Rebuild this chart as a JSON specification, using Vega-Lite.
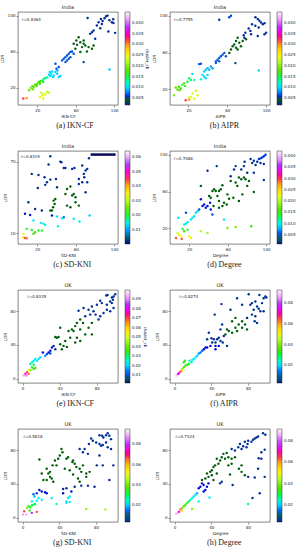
{
"$schema": "https://vega.github.io/schema/vega-lite/v6.json",
"padding": {"left": 0, "top": 4, "right": 0, "bottom": 0},
"background": "white",
"columns": 2,
"spacing": {"row": 12, "column": 2},
"resolve": {"scale": {"color": "independent"}, "legend": {"color": "independent"}},
"config": {
 "view": {"stroke": "#333", "strokeWidth": 0.6},
 "axis": {"labelFontSize": 4, "titleFontSize": 4.3, "labelFont": "DejaVu Sans", "titleFont": "DejaVu Sans", "grid": false, "tickSize": 2, "tickWidth": 0.5, "domain": false, "labelPadding": 1, "titlePadding": 2.5, "titleFontWeight": "normal", "labelColor": "#222", "titleColor": "#222", "tickColor": "#333", "labelOverlap": false, "labelFlush": false},
 "legend": {"gradientLength": 93, "gradientThickness": 5, "labelFontSize": 4, "labelFont": "DejaVu Sans", "offset": 7, "padding": 0, "gradientStrokeColor": "#333", "gradientStrokeWidth": 0.5, "labelOffset": 2, "titleFontSize": 4, "titleFont": "DejaVu Sans", "titleFontWeight": "normal", "labelColor": "#222", "titlePadding": 2, "labelOverlap": false},
 "title": {"fontSize": 5, "font": "DejaVu Sans", "fontWeight": "normal", "offset": 2, "color": "#222"},
 "circle": {"size": 6, "opacity": 1}
},
"datasets": {
"a": [
{"x":91.7,"y":99.3,"c":0.0022},{"x":93.1,"y":100,"c":0.0022},{"x":90,"y":97,"c":0.0022},{"x":86.2,"y":96.3,"c":0.0022},{"x":83.8,"y":92.6,"c":0.0022},{"x":87.2,"y":90.8,"c":0.0022},{"x":82,"y":89,"c":0.0022},{"x":97.6,"y":92.6,"c":0.0022},{"x":99.3,"y":91.9,"c":0.0022},{"x":101,"y":80.9,"c":0.0022},{"x":94,"y":82.4,"c":0.0022},{"x":85.5,"y":86,"c":0.0022},{"x":78.6,"y":83.5,"c":0.0022},{"x":76.9,"y":81.6,"c":0.0022},{"x":75,"y":79.8,"c":0.0022},{"x":72.4,"y":97.4,"c":0.0022},{"x":80.3,"y":74.3,"c":0.0022},{"x":68.3,"y":48.5,"c":0.0025},{"x":95,"y":95,"c":0.0022},{"x":88,"y":94,"c":0.0022},{"x":99,"y":96,"c":0.0022},
{"x":63.1,"y":76.1,"c":0.004},{"x":64.8,"y":70.6,"c":0.004},{"x":68.3,"y":72.4,"c":0.004},{"x":70,"y":66.9,"c":0.004},{"x":66.6,"y":65.1,"c":0.004},{"x":61.4,"y":67.6,"c":0.004},{"x":59.7,"y":63.2,"c":0.004},{"x":71.7,"y":60.3,"c":0.004},{"x":73.4,"y":65.1,"c":0.004},{"x":57.9,"y":68.8,"c":0.004},{"x":64.8,"y":59.6,"c":0.004},{"x":78.6,"y":66.9,"c":0.004},{"x":76.9,"y":63.2,"c":0.004},{"x":68.3,"y":68.8,"c":0.004},{"x":60.7,"y":72.4,"c":0.004},
{"x":47.6,"y":52.2,"c":0.0055},{"x":49.3,"y":54,"c":0.0055},{"x":51,"y":55.9,"c":0.0055},{"x":52.8,"y":57.7,"c":0.0055},{"x":54.5,"y":59.6,"c":0.0055},{"x":56.2,"y":60.3,"c":0.0055},{"x":51,"y":50.4,"c":0.0055},{"x":54.5,"y":54,"c":0.0055},{"x":57.9,"y":57.7,"c":0.0055},{"x":49.3,"y":48.5,"c":0.0055},{"x":45.9,"y":50.4,"c":0.0055},{"x":52.8,"y":52.2,"c":0.0055},
{"x":39,"y":46.7,"c":0.0068},{"x":40,"y":41.2,"c":0.0068},{"x":42.4,"y":43,"c":0.0068},
{"x":33.1,"y":37.5,"c":0.0098},{"x":34.5,"y":35.7,"c":0.0098},{"x":35.5,"y":38.2,"c":0.0098},{"x":37.2,"y":33.8,"c":0.0098},{"x":33.8,"y":33.1,"c":0.0098},{"x":32.1,"y":34.6,"c":0.0098},{"x":40.7,"y":35.7,"c":0.0095},{"x":42.4,"y":32,"c":0.0095},{"x":44.1,"y":33.1,"c":0.0095},{"x":38.9,"y":37.5,"c":0.0095},{"x":36.6,"y":32,"c":0.0098},{"x":41,"y":39.3,"c":0.009},{"x":95.2,"y":40.4,"c":0.0095},
{"x":11.4,"y":17.3,"c":0.019},{"x":13.1,"y":19.9,"c":0.019},{"x":14.8,"y":22.1,"c":0.019},{"x":16.2,"y":20.9,"c":0.017},{"x":17.9,"y":23.5,"c":0.017},{"x":20,"y":24.6,"c":0.017},{"x":21.7,"y":26.5,"c":0.017},{"x":23.4,"y":27.2,"c":0.017},{"x":25.2,"y":28.3,"c":0.014},{"x":26.9,"y":30.1,"c":0.014},{"x":28.6,"y":30.9,"c":0.014},{"x":30.3,"y":31.6,"c":0.013},{"x":15.5,"y":18.4,"c":0.019},{"x":19.3,"y":22.1,"c":0.017},{"x":22.8,"y":24.6,"c":0.017},{"x":26.2,"y":26.5,"c":0.015},
{"x":22.8,"y":9.9,"c":0.024},{"x":24.1,"y":14.7,"c":0.023},{"x":25.2,"y":11.8,"c":0.024},{"x":26.9,"y":13.6,"c":0.023},{"x":28.6,"y":12.5,"c":0.024},{"x":30.3,"y":15.4,"c":0.022},{"x":32.1,"y":14.7,"c":0.022},{"x":26.2,"y":8.1,"c":0.025},
{"x":5.5,"y":8.1,"c":0.032},{"x":9,"y":8.8,"c":0.03}
],
"b": [
{"x":51.7,"y":95.6,"c":0.0022},{"x":89,"y":98.2,"c":0.0022},{"x":91.4,"y":96.3,"c":0.0022},{"x":93.1,"y":94.5,"c":0.0022},{"x":94.8,"y":92.6,"c":0.0022},{"x":96.6,"y":90.8,"c":0.0022},{"x":98.3,"y":91.9,"c":0.0022},{"x":85.5,"y":90.8,"c":0.0022},{"x":88.9,"y":89,"c":0.0022},{"x":82,"y":86,"c":0.0022},{"x":92.4,"y":87.1,"c":0.0022},{"x":83.8,"y":83.5,"c":0.0022},{"x":78.6,"y":81.6,"c":0.0022},{"x":76.9,"y":78.7,"c":0.0022},{"x":100,"y":81.6,"c":0.0022},{"x":98.3,"y":79.8,"c":0.0022},{"x":91.4,"y":77.9,"c":0.0022},{"x":84.5,"y":79.8,"c":0.0022},{"x":77.6,"y":76.1,"c":0.0022},{"x":68.3,"y":48.5,"c":0.0025},
{"x":62,"y":98.2,"c":0.0058},{"x":63.8,"y":100,"c":0.0058},
{"x":70.7,"y":76.1,"c":0.004},{"x":69,"y":72.4,"c":0.004},{"x":72.4,"y":70.6,"c":0.004},{"x":67.2,"y":68.8,"c":0.004},{"x":74.1,"y":66.9,"c":0.004},{"x":69,"y":65.1,"c":0.004},{"x":65.5,"y":66.9,"c":0.004},{"x":75.9,"y":72.4,"c":0.004},{"x":79.3,"y":74.3,"c":0.004},{"x":70.7,"y":63.2,"c":0.004},{"x":63.8,"y":63.2,"c":0.004},{"x":62.1,"y":59.6,"c":0.004},
{"x":53.4,"y":55.9,"c":0.0055},{"x":55.2,"y":57.7,"c":0.0055},{"x":56.9,"y":59.6,"c":0.0055},{"x":50,"y":52.2,"c":0.0055},{"x":51.7,"y":54,"c":0.0055},{"x":48.3,"y":50.4,"c":0.0055},{"x":58.6,"y":55.9,"c":0.0055},{"x":48.3,"y":48.5,"c":0.0055},{"x":51.7,"y":50.4,"c":0.0055},
{"x":31,"y":47.4,"c":0.0068},{"x":32.8,"y":47.8,"c":0.0068},
{"x":36.2,"y":39.3,"c":0.0095},{"x":37.9,"y":41.2,"c":0.0095},{"x":39.7,"y":43,"c":0.009},{"x":41.4,"y":41.2,"c":0.009},{"x":43.1,"y":44.9,"c":0.0085},{"x":44.8,"y":43,"c":0.0085},{"x":34.5,"y":35.7,"c":0.0098},{"x":36.2,"y":33.8,"c":0.0098},{"x":39.7,"y":35.7,"c":0.0098},{"x":37.9,"y":32,"c":0.0098},{"x":32.8,"y":30.9,"c":0.011},{"x":24.1,"y":36.8,"c":0.0098},{"x":25.9,"y":30.1,"c":0.012},{"x":92.4,"y":40.4,"c":0.0095},
{"x":5.2,"y":13.6,"c":0.02},{"x":6.9,"y":22.1,"c":0.018},{"x":8.6,"y":19.9,"c":0.018},{"x":10.3,"y":22.8,"c":0.017},{"x":12.1,"y":20.9,"c":0.017},{"x":13.8,"y":24.6,"c":0.016},{"x":15.5,"y":26.5,"c":0.016},{"x":16.6,"y":23.5,"c":0.016},{"x":19,"y":28.3,"c":0.015},{"x":20.7,"y":32,"c":0.014},{"x":22.4,"y":30.1,"c":0.014},{"x":11,"y":19.1,"c":0.018},
{"x":24.1,"y":15.4,"c":0.023},{"x":27.6,"y":18.4,"c":0.022},{"x":29.3,"y":13.6,"c":0.024},{"x":22.4,"y":11.8,"c":0.024},{"x":25.9,"y":9.9,"c":0.025},{"x":20.7,"y":11,"c":0.024},
{"x":17.2,"y":8.1,"c":0.032},{"x":20.7,"y":8.8,"c":0.029}
],
"c": [
{"x":33.6,"y":74.6,"c":0.0011},{"x":44,"y":70.1,"c":0.0011},{"x":45.1,"y":69.6,"c":0.0011},{"x":47.6,"y":64.8,"c":0.0011},{"x":49.3,"y":64.8,"c":0.0011},{"x":31.8,"y":67.6,"c":0.0011},{"x":56.3,"y":64,"c":0.0011},{"x":58.7,"y":64.8,"c":0.0011},{"x":66.8,"y":66.8,"c":0.0011},{"x":73.8,"y":72.9,"c":0.0011},{"x":14.3,"y":59.8,"c":0.0011},{"x":21.3,"y":58.9,"c":0.0011},{"x":27.6,"y":57,"c":0.0011},{"x":30.1,"y":52.8,"c":0.0011},{"x":33.6,"y":55,"c":0.0011},{"x":39.5,"y":55.6,"c":0.0011},{"x":20.6,"y":48,"c":0.0011},{"x":28.3,"y":50.6,"c":0.0011},{"x":40.6,"y":48.6,"c":0.0011},{"x":63.3,"y":55.6,"c":0.0011},{"x":70.3,"y":62.6,"c":0.0011},{"x":72,"y":64,"c":0.0011},{"x":68.5,"y":59.8,"c":0.0011},{"x":68.9,"y":57,"c":0.0011},{"x":66.8,"y":52.8,"c":0.0011},{"x":63.3,"y":51.4,"c":0.0011},{"x":72,"y":52.8,"c":0.0011},{"x":70.3,"y":44.4,"c":0.0011},{"x":10.8,"y":36,"c":0.0011},{"x":17.8,"y":30.4,"c":0.0011},{"x":24.8,"y":29.1,"c":0.0011},
{"x":37.1,"y":37.4,"c":0.0037},{"x":38.8,"y":38.8,"c":0.0037},{"x":38.1,"y":34.6,"c":0.0037},{"x":36.5,"y":31.8,"c":0.0037},{"x":35.3,"y":29.1,"c":0.0037},{"x":49.3,"y":43,"c":0.0037},{"x":56.3,"y":41.6,"c":0.0037},{"x":58,"y":43,"c":0.0037},{"x":59.8,"y":40.2,"c":0.0037},{"x":51,"y":33.2,"c":0.0037},{"x":54.5,"y":31.8,"c":0.0037},{"x":59.8,"y":36,"c":0.0037},{"x":63.3,"y":33.2,"c":0.0037},{"x":51,"y":47.2,"c":0.0037},{"x":54.5,"y":49.2,"c":0.0037},{"x":33.6,"y":29.1,"c":0.0037},
{"x":7.3,"y":26.3,"c":0.0069},{"x":12.6,"y":25.4,"c":0.0069},{"x":35.3,"y":24.9,"c":0.0069},{"x":47.6,"y":23.5,"c":0.0085},
{"x":40.6,"y":24,"c":0.0125},{"x":45.8,"y":22.6,"c":0.0132},{"x":16.1,"y":20.7,"c":0.0132},{"x":24.1,"y":18.7,"c":0.014},{"x":26.7,"y":17.9,"c":0.014},{"x":28.3,"y":17,"c":0.0145},{"x":41.6,"y":15.9,"c":0.015},{"x":58,"y":22.1,"c":0.013},{"x":64,"y":19.8,"c":0.013},{"x":74.5,"y":24.9,"c":0.012},
{"x":9.1,"y":13.7,"c":0.021},{"x":14.3,"y":12.8,"c":0.021},{"x":17.8,"y":10.9,"c":0.022},{"x":21.3,"y":12.3,"c":0.021},{"x":16.1,"y":9.5,"c":0.023},{"x":24.8,"y":12.3,"c":0.02},
{"x":5.6,"y":9.5,"c":0.034},{"x":5.6,"y":6.7,"c":0.036},
{"x":7.3,"y":6.1,"c":0.044},{"x":9.1,"y":5.9,"c":0.043}
],
"cbar": [{"x":75.5,"x2":101.5,"y":76}],
"d": [
{"x":99.3,"y":100,"c":0.005},{"x":97.6,"y":98.2,"c":0.005},{"x":95.9,"y":97.1,"c":0.005},{"x":94.1,"y":96,"c":0.005},{"x":92.4,"y":95.3,"c":0.005},{"x":90.7,"y":92.3,"c":0.0014},{"x":87.2,"y":93.4,"c":0.0014},{"x":85.5,"y":90.9,"c":0.0014},{"x":83.8,"y":95.3,"c":0.0014},{"x":77.6,"y":92.3,"c":0.0014},{"x":89,"y":88.7,"c":0.0014},{"x":94.1,"y":90.9,"c":0.0014},{"x":97.6,"y":89.8,"c":0.0014},{"x":97.6,"y":72.6,"c":0.0014},{"x":76.9,"y":87.6,"c":0.0014},{"x":68.3,"y":87.6,"c":0.0014},{"x":74.1,"y":84,"c":0.0014},{"x":66.6,"y":84,"c":0.0014},{"x":39,"y":82.5,"c":0.0014},{"x":48.6,"y":87.6,"c":0.0014},{"x":63.1,"y":76.6,"c":0.0014},{"x":80.3,"y":80.3,"c":0.0014},{"x":87.2,"y":80.3,"c":0.0014},
{"x":71.7,"y":75.2,"c":0.0031},{"x":74.1,"y":73.4,"c":0.0031},{"x":76.9,"y":75.2,"c":0.0031},{"x":78.6,"y":73.4,"c":0.0031},{"x":82.1,"y":71.5,"c":0.0031},{"x":68.3,"y":69.7,"c":0.0031},{"x":63.1,"y":71.5,"c":0.0031},{"x":70,"y":66.1,"c":0.0031},{"x":80.3,"y":66.1,"c":0.0031},{"x":75.2,"y":56.9,"c":0.0031},{"x":87.2,"y":59.5,"c":0.0031},{"x":65.9,"y":53.3,"c":0.0031},{"x":59.7,"y":56.9,"c":0.0031},{"x":54.5,"y":66.8,"c":0.0031},{"x":52.8,"y":62.4,"c":0.0031},{"x":51,"y":60.6,"c":0.0031},{"x":45.9,"y":62.4,"c":0.0031},{"x":44.1,"y":60.6,"c":0.0031},{"x":47.6,"y":60.6,"c":0.0031},{"x":40.7,"y":55.1,"c":0.0031},{"x":42.4,"y":53.3,"c":0.0031},{"x":49.3,"y":55.1,"c":0.0031},{"x":56.2,"y":47.8,"c":0.0031},{"x":59,"y":46,"c":0.0031},{"x":51,"y":49.6,"c":0.0031},{"x":45.2,"y":44.2,"c":0.0031},{"x":54.5,"y":44.2,"c":0.0031},{"x":71.7,"y":49.6,"c":0.0031},{"x":61.4,"y":52.2,"c":0.0031},{"x":32.1,"y":66.1,"c":0.0031},{"x":51,"y":42.3,"c":0.0031},
{"x":32.1,"y":51.5,"c":0.0051},{"x":33.8,"y":44.2,"c":0.0051},{"x":35.5,"y":46,"c":0.0051},{"x":37.2,"y":42.3,"c":0.0051},{"x":39,"y":44.2,"c":0.0051},{"x":42.4,"y":40.5,"c":0.0051},{"x":44.1,"y":35,"c":0.0058},{"x":30.3,"y":40.5,"c":0.0058},{"x":16.6,"y":36.9,"c":0.0058},{"x":41.7,"y":47.8,"c":0.0051},
{"x":28.6,"y":38.7,"c":0.0085},{"x":26.9,"y":36.9,"c":0.0088},{"x":25.2,"y":33.2,"c":0.009},{"x":23.4,"y":31.4,"c":0.0092},{"x":21.7,"y":29.6,"c":0.0095},{"x":18.3,"y":26.6,"c":0.0098},{"x":16.6,"y":25.2,"c":0.01},{"x":14.8,"y":24.1,"c":0.0105},{"x":8.6,"y":31.4,"c":0.0095},{"x":56.2,"y":29.6,"c":0.0092},
{"x":13.1,"y":19.3,"c":0.0142},{"x":18.3,"y":18.6,"c":0.0142},{"x":14.8,"y":16.8,"c":0.016},{"x":59.7,"y":20.4,"c":0.018},{"x":68.3,"y":21.5,"c":0.018},{"x":84.5,"y":22.3,"c":0.015},{"x":32.1,"y":16.8,"c":0.02},{"x":39,"y":15,"c":0.019},{"x":7.9,"y":15,"c":0.021},
{"x":9.7,"y":13.1,"c":0.0228},{"x":11.4,"y":11.3,"c":0.0228},{"x":20,"y":11.3,"c":0.0228},{"x":21.7,"y":9.5,"c":0.023},
{"x":6.2,"y":9.5,"c":0.0294},{"x":12.1,"y":8.4,"c":0.0294}
],
"e": [
{"x":100,"y":100,"c":0.0025},{"x":98.2,"y":97.3,"c":0.0025},{"x":96.4,"y":96.1,"c":0.0025},{"x":90.3,"y":98.4,"c":0.0025},{"x":91.7,"y":99.2,"c":0.0025},{"x":97.5,"y":93.4,"c":0.0025},{"x":94.6,"y":91.4,"c":0.0025},{"x":83.8,"y":92.2,"c":0.0025},{"x":85.6,"y":89.5,"c":0.0025},{"x":80.2,"y":87.5,"c":0.0025},{"x":74.8,"y":85.6,"c":0.0025},{"x":71.2,"y":81.7,"c":0.0025},{"x":65.8,"y":83.7,"c":0.0025},{"x":60.4,"y":80.5,"c":0.0025},{"x":91,"y":87.5,"c":0.0025},{"x":98.2,"y":83.7,"c":0.0025},{"x":87.4,"y":77.8,"c":0.0025},{"x":83.8,"y":73.9,"c":0.0025},{"x":82,"y":70,"c":0.0025},{"x":76.6,"y":79.8,"c":0.0025},{"x":73,"y":75.9,"c":0.0025},{"x":67.6,"y":73.9,"c":0.0025},{"x":78.8,"y":75.9,"c":0.0025},{"x":91,"y":81.7,"c":0.0025},{"x":94.6,"y":79.8,"c":0.0025},{"x":96.4,"y":89.5,"c":0.0025},
{"x":62.2,"y":70,"c":0.0064},{"x":58.6,"y":66.1,"c":0.0064},{"x":65.2,"y":66.1,"c":0.0064},{"x":56.8,"y":62.3,"c":0.0064},{"x":53.2,"y":58.4,"c":0.0064},{"x":49.6,"y":56.4,"c":0.0064},{"x":55,"y":56.4,"c":0.0064},{"x":62.2,"y":58.4,"c":0.0064},{"x":71.2,"y":60.3,"c":0.0064},{"x":74.8,"y":66.1,"c":0.0064},{"x":67.6,"y":52.5,"c":0.0064},{"x":62.2,"y":44.7,"c":0.0064},{"x":56.8,"y":42.8,"c":0.0064},{"x":51.4,"y":48.6,"c":0.0064},{"x":46,"y":44.7,"c":0.0064},{"x":40.6,"y":60.3,"c":0.0064},{"x":37,"y":48.6,"c":0.0064},{"x":38.8,"y":49.4,"c":0.0064},{"x":35.3,"y":49.4,"c":0.0064},{"x":40.6,"y":40.9,"c":0.0064},{"x":44.2,"y":38.9,"c":0.0064},{"x":47.8,"y":37.7,"c":0.0064},{"x":42.4,"y":35,"c":0.0064},{"x":58.6,"y":48.6,"c":0.0064},{"x":74.8,"y":52.5,"c":0.0064},
{"x":33.5,"y":38.9,"c":0.0025},{"x":31.7,"y":37,"c":0.0114},{"x":35.3,"y":35,"c":0.0025},{"x":29.9,"y":33.1,"c":0.0114},{"x":28.1,"y":31.1,"c":0.0114},{"x":26.3,"y":29.2,"c":0.013},{"x":24.5,"y":27.2,"c":0.015},{"x":21.9,"y":31.1,"c":0.0114},{"x":29.9,"y":30,"c":0.013},
{"x":19.1,"y":25.3,"c":0.019},{"x":17.3,"y":23.3,"c":0.0212},{"x":15.5,"y":21.4,"c":0.0212},{"x":13.7,"y":23.3,"c":0.0212},{"x":11.9,"y":21.4,"c":0.023},{"x":10.1,"y":19.5,"c":0.025},{"x":8.3,"y":17.5,"c":0.026},{"x":11.9,"y":16.7,"c":0.03},
{"x":10.1,"y":13.6,"c":0.033},{"x":11.9,"y":11.7,"c":0.036},{"x":8.3,"y":10.5,"c":0.04},{"x":13.7,"y":12.8,"c":0.034},
{"x":6.5,"y":9.7,"c":0.0537},
{"x":4.7,"y":7.8,"c":0.0695},{"x":6.5,"y":5.8,"c":0.068},
{"x":2.9,"y":5.8,"c":0.0783},{"x":1.1,"y":3.9,"c":0.0931},{"x":4,"y":3.9,"c":0.09}
],
"f": [
{"x":98.9,"y":97.3,"c":0.0039},{"x":97.1,"y":95.3,"c":0.0039},{"x":100,"y":96.1,"c":0.0039},{"x":92.4,"y":99.2,"c":0.0039},{"x":80.8,"y":100,"c":0.0039},{"x":84.4,"y":89.5,"c":0.0039},{"x":82.6,"y":87.5,"c":0.0039},{"x":88,"y":91.4,"c":0.0039},{"x":89.9,"y":85.6,"c":0.0039},{"x":95.3,"y":89.5,"c":0.0039},{"x":93.5,"y":79.8,"c":0.0039},{"x":97.1,"y":79.8,"c":0.0039},{"x":86.2,"y":81.7,"c":0.0039},{"x":91.7,"y":82.9,"c":0.0039},{"x":84.4,"y":75.9,"c":0.0039},{"x":88,"y":73.9,"c":0.0039},{"x":79,"y":72,"c":0.0039},{"x":73.6,"y":87.5,"c":0.0039},{"x":68.1,"y":95.3,"c":0.0039},{"x":60.9,"y":81.7,"c":0.0039},{"x":51.1,"y":88.3,"c":0.0039},{"x":43.8,"y":75.9,"c":0.0039},{"x":87.3,"y":68.1,"c":0.0039},{"x":89.9,"y":66.1,"c":0.0039},
{"x":73.6,"y":68.1,"c":0.0075},{"x":69.9,"y":64.2,"c":0.0075},{"x":66.3,"y":60.3,"c":0.0075},{"x":76.8,"y":64.2,"c":0.0075},{"x":68.1,"y":56.4,"c":0.0075},{"x":62.7,"y":54.5,"c":0.0075},{"x":59.1,"y":56.4,"c":0.0075},{"x":55.4,"y":52.5,"c":0.0075},{"x":57.2,"y":58.4,"c":0.0075},{"x":79,"y":58.4,"c":0.0075},{"x":73.6,"y":60.3,"c":0.0075},{"x":62.7,"y":68.1,"c":0.0075},{"x":66.3,"y":72,"c":0.0075},
{"x":53.6,"y":50.6,"c":0.0039},{"x":51.8,"y":64.2,"c":0.0039},{"x":50,"y":58.4,"c":0.0039},{"x":48.2,"y":48.6,"c":0.0039},{"x":46.4,"y":46.7,"c":0.0039},{"x":42.8,"y":46.7,"c":0.0039},{"x":40.2,"y":47.9,"c":0.0039},{"x":37.3,"y":54.5,"c":0.0039},{"x":35.5,"y":46.7,"c":0.0039},{"x":44.6,"y":42.8,"c":0.0039},{"x":41,"y":42.8,"c":0.0039},
{"x":50,"y":44.7,"c":0.0039},{"x":52.5,"y":42.8,"c":0.0039},{"x":48.2,"y":38.9,"c":0.012},{"x":44.6,"y":38.9,"c":0.012},{"x":39.1,"y":38.9,"c":0.012},{"x":35.5,"y":37,"c":0.012},{"x":33.7,"y":37,"c":0.012},{"x":31.9,"y":35,"c":0.012},{"x":30.1,"y":33.1,"c":0.014},{"x":28.3,"y":31.1,"c":0.015},{"x":44.6,"y":35,"c":0.012},{"x":57.2,"y":38.9,"c":0.0039},{"x":26.4,"y":30,"c":0.016},
{"x":24.6,"y":27.2,"c":0.019},{"x":22.8,"y":25.3,"c":0.021},{"x":21,"y":23.3,"c":0.021},{"x":19.2,"y":22.2,"c":0.023},{"x":18.5,"y":19.5,"c":0.025},{"x":16.3,"y":21.4,"c":0.024},
{"x":15.6,"y":17.5,"c":0.03},{"x":13.8,"y":16.7,"c":0.032},{"x":12,"y":15.6,"c":0.034},{"x":10.1,"y":13.6,"c":0.037},{"x":8.3,"y":11.7,"c":0.04},{"x":11.2,"y":21.4,"c":0.033},{"x":10.1,"y":19.5,"c":0.034},
{"x":8.3,"y":9.7,"c":0.0507},
{"x":6.5,"y":8.6,"c":0.0651},
{"x":4.7,"y":6.6,"c":0.0732},{"x":2.9,"y":4.7,"c":0.0867},{"x":4,"y":5.8,"c":0.075},{"x":1.8,"y":3.5,"c":0.09}
],
"g": [
{"x":92.8,"y":100,"c":0.0044},{"x":91,"y":97.7,"c":0.0044},{"x":94.6,"y":96.9,"c":0.0044},{"x":83.8,"y":97.7,"c":0.0044},{"x":86.7,"y":96.9,"c":0.0044},{"x":88.1,"y":95,"c":0.0044},{"x":96.4,"y":93,"c":0.0044},{"x":74.8,"y":93.8,"c":0.0044},{"x":80.2,"y":89.1,"c":0.0044},{"x":83.8,"y":87.2,"c":0.0044},{"x":85.6,"y":85.3,"c":0.0044},{"x":87.4,"y":86,"c":0.0044},{"x":91,"y":89.1,"c":0.0044},{"x":92.8,"y":83.3,"c":0.0044},{"x":96.4,"y":81.4,"c":0.0044},{"x":76.6,"y":91.1,"c":0.0044},{"x":72.3,"y":87.2,"c":0.0044},{"x":67.6,"y":81.4,"c":0.0044},{"x":62.2,"y":81.4,"c":0.0044},{"x":65.8,"y":77.5,"c":0.0044},{"x":71.2,"y":75.6,"c":0.0044},{"x":83.8,"y":73.6,"c":0.0044},{"x":80.9,"y":62,"c":0.0044},{"x":87.4,"y":62,"c":0.0044},{"x":98.9,"y":62,"c":0.0044},{"x":94.6,"y":44.6,"c":0.0044},{"x":78.4,"y":36.8,"c":0.0044},{"x":71.2,"y":38,"c":0.0044},{"x":64,"y":38,"c":0.0044},{"x":56.8,"y":36.8,"c":0.0044},{"x":47.8,"y":34.9,"c":0.0044},{"x":44.2,"y":34.1,"c":0.0044},
{"x":42.4,"y":81.4,"c":0.0081},{"x":43.5,"y":77.5,"c":0.0081},{"x":40.6,"y":73.6,"c":0.0081},{"x":38.8,"y":69.8,"c":0.0081},{"x":35.3,"y":67.8,"c":0.0081},{"x":37,"y":62,"c":0.0081},{"x":32.7,"y":62,"c":0.0081},{"x":29.9,"y":54.3,"c":0.0081},{"x":28.1,"y":52.3,"c":0.0081},{"x":26.3,"y":58.1,"c":0.0081},{"x":18.3,"y":69,"c":0.0081},{"x":20.9,"y":52.3,"c":0.0081},{"x":22.7,"y":44.6,"c":0.0081},{"x":26.3,"y":44.6,"c":0.0081},{"x":29.9,"y":48.4,"c":0.0081},{"x":31.7,"y":46.5,"c":0.0081},{"x":33.5,"y":42.6,"c":0.0081},{"x":55,"y":67.8,"c":0.0081},{"x":54.3,"y":65.9,"c":0.0081},{"x":56.8,"y":64,"c":0.0081},{"x":58.6,"y":60.1,"c":0.0081},{"x":62.2,"y":58.1,"c":0.0081},{"x":64,"y":54.3,"c":0.0081},{"x":65.8,"y":62,"c":0.0081},{"x":69.4,"y":52.3,"c":0.0081},{"x":69.4,"y":48.4,"c":0.0081},{"x":60.4,"y":46.5,"c":0.0081},{"x":55,"y":51.2,"c":0.0081},{"x":62.2,"y":42.6,"c":0.0081},{"x":73,"y":54.3,"c":0.0081},{"x":51.4,"y":56.2,"c":0.0081},{"x":46,"y":58.1,"c":0.0081},{"x":47.8,"y":69.8,"c":0.0081},{"x":49.6,"y":71.7,"c":0.0081},
{"x":18.3,"y":32.9,"c":0.0127},{"x":20.9,"y":31,"c":0.0127},{"x":24.5,"y":30.2,"c":0.0127},{"x":26.3,"y":29.1,"c":0.0127},{"x":15.5,"y":29.1,"c":0.014},{"x":11.9,"y":27.9,"c":0.015},{"x":44.2,"y":29.1,"c":0.0127},{"x":53.2,"y":31,"c":0.0127},
{"x":13,"y":25.2,"c":0.019},{"x":17.3,"y":23.3,"c":0.0218},{"x":20.9,"y":21.3,"c":0.0218},{"x":15.5,"y":20.2,"c":0.0218},{"x":10.1,"y":19.4,"c":0.024},{"x":31.7,"y":23.3,"c":0.0218},{"x":49.6,"y":23.3,"c":0.0218},{"x":51.4,"y":25.2,"c":0.0218},{"x":47.8,"y":19.4,"c":0.0218},{"x":51.4,"y":18.6,"c":0.0218},{"x":47.8,"y":17.4,"c":0.0218},{"x":37,"y":16.3,"c":0.024},
{"x":6.5,"y":13.6,"c":0.0328},{"x":8.3,"y":12.4,"c":0.0328},{"x":10.1,"y":14.7,"c":0.0328},{"x":11.9,"y":15.5,"c":0.03},{"x":7.6,"y":8.5,"c":0.034},{"x":69.4,"y":10.5,"c":0.043},{"x":90.3,"y":9.7,"c":0.045},{"x":13.7,"y":16.3,"c":0.03},
{"x":4.7,"y":11.6,"c":0.042},
{"x":1.8,"y":7.8,"c":0.0667},{"x":15.5,"y":7,"c":0.0667},
{"x":10.1,"y":5.8,"c":0.0813},
{"x":0.4,"y":3.9,"c":0.0886},{"x":4,"y":3.9,"c":0.0886}
],
"h": [
{"x":96.4,"y":100,"c":0.0049},{"x":98.9,"y":98.1,"c":0.0049},{"x":91,"y":96.1,"c":0.0049},{"x":89.2,"y":95,"c":0.0049},{"x":87.4,"y":93.8,"c":0.0049},{"x":85.6,"y":92.2,"c":0.0049},{"x":80.2,"y":91.1,"c":0.0049},{"x":76.6,"y":89.9,"c":0.0049},{"x":83.8,"y":89.9,"c":0.0049},{"x":79.5,"y":87.2,"c":0.0049},{"x":71.2,"y":87.2,"c":0.0049},{"x":74.8,"y":84.5,"c":0.0049},{"x":69.4,"y":83.3,"c":0.0049},{"x":62.2,"y":81.4,"c":0.0049},{"x":65.8,"y":79.5,"c":0.0049},{"x":73,"y":81.4,"c":0.0049},{"x":78.4,"y":83.3,"c":0.0049},{"x":98.2,"y":80.6,"c":0.0049},{"x":94.6,"y":77.5,"c":0.0049},{"x":94.6,"y":69.8,"c":0.0049},{"x":91.7,"y":70.5,"c":0.0049},{"x":91,"y":58.1,"c":0.0049},{"x":98.2,"y":48.4,"c":0.0049},{"x":87.4,"y":47.7,"c":0.0049},{"x":80.2,"y":48.4,"c":0.0049},{"x":92.8,"y":29.1,"c":0.0049},{"x":84.9,"y":23.3,"c":0.0049},{"x":63.3,"y":38.8,"c":0.0049},{"x":49.6,"y":40.7,"c":0.0049},{"x":51.4,"y":42.6,"c":0.0049},
{"x":56.8,"y":76.7,"c":0.0084},{"x":53.2,"y":75.6,"c":0.0084},{"x":51.4,"y":71.7,"c":0.0084},{"x":55,"y":69.8,"c":0.0084},{"x":58.6,"y":71.7,"c":0.0084},{"x":62.2,"y":69.8,"c":0.0084},{"x":65.8,"y":71.7,"c":0.0084},{"x":49.6,"y":67.8,"c":0.0084},{"x":46,"y":69.8,"c":0.0084},{"x":47.8,"y":64,"c":0.0084},{"x":44.2,"y":62,"c":0.0084},{"x":42.4,"y":60.1,"c":0.0084},{"x":40.6,"y":56.2,"c":0.0084},{"x":38.8,"y":54.3,"c":0.0084},{"x":40.6,"y":50.4,"c":0.0084},{"x":37,"y":48.4,"c":0.0084},{"x":33.5,"y":46.5,"c":0.0084},{"x":29.9,"y":44.6,"c":0.0084},{"x":35.3,"y":52.3,"c":0.0084},{"x":46,"y":52.3,"c":0.0084},{"x":42.4,"y":44.6,"c":0.0084},{"x":58.6,"y":62,"c":0.0084},{"x":62.2,"y":64,"c":0.0084},{"x":73,"y":62,"c":0.0084},{"x":70.1,"y":58.1,"c":0.0084},{"x":73,"y":54.3,"c":0.0084},{"x":76.6,"y":50.4,"c":0.0084},{"x":60.4,"y":51.2,"c":0.0084},
{"x":29.9,"y":40.7,"c":0.0127},{"x":31.7,"y":38.8,"c":0.0127},{"x":28.1,"y":36.8,"c":0.0127},{"x":26.3,"y":34.9,"c":0.0127},{"x":33.5,"y":32.9,"c":0.0127},{"x":31.7,"y":31,"c":0.0127},{"x":35.3,"y":36.8,"c":0.0127},{"x":37,"y":40.7,"c":0.0127},
{"x":24.5,"y":29.1,"c":0.018},{"x":22.7,"y":27.1,"c":0.02},{"x":20.9,"y":25.2,"c":0.0214},{"x":19.1,"y":23.3,"c":0.023},{"x":17.3,"y":21.3,"c":0.025},{"x":38.1,"y":24,"c":0.0214},{"x":26.3,"y":19.4,"c":0.0214},
{"x":15.5,"y":19.4,"c":0.03},{"x":13.7,"y":17.4,"c":0.0318},{"x":11.9,"y":15.5,"c":0.034},{"x":10.1,"y":13.6,"c":0.037},{"x":8.3,"y":11.6,"c":0.04},{"x":19.1,"y":10.5,"c":0.0405},{"x":80.2,"y":16.3,"c":0.028},
{"x":6.5,"y":9.7,"c":0.064},{"x":7.6,"y":8.5,"c":0.056},
{"x":4.7,"y":7,"c":0.0719},{"x":2.9,"y":5.4,"c":0.0849},{"x":1.1,"y":4.7,"c":0.088}
]
},
"concat": [
{"title": {"text": "(a) IKN-CF", "orient": "bottom", "font": "Liberation Serif", "fontSize": 8, "anchor": "middle", "offset": 3},
 "resolve": {"scale": {"color": "independent"}, "legend": {"color": "independent"}},
 "vconcat": [{"title": {"text": "India", "anchor": "middle", "frame": "group"}, "width": 100, "height": 93,
  "layer": [
   {"data": {"name": "a"}, "mark": {"type": "circle"},
    "encoding": {
     "x": {"field": "x", "type": "quantitative", "title": "IKN-CF", "scale": {"domain": [0, 104], "nice": false, "zero": false}, "axis": {"values": [20, 40, 60, 80, 100]}},
     "y": {"field": "y", "type": "quantitative", "title": "LDR", "scale": {"domain": [1, 104], "nice": false, "zero": false}, "axis": {"values": [20, 40, 60, 80, 100]}},
     "color": {"field": "c", "type": "quantitative", "scale": {"domain": [0.0018, 0.045], "range": ["#000080","#005D08","#000AD5","#009FFF","#00EDFF","#00FBB2","#00FD39","#41E000","#74E800","#9EFF23","#D9FF22","#FFED00","#FFCE05","#FF9319","#FF374E","#FF00AE","#F107FF","#A337F8","#EC82FF","#F5BDFE","#FEF8FE"]}, "legend": {"title": "cluster_cb", "titleOrient": "right", "titleAngle": 90, "titleAnchor": "middle", "values": [0.005, 0.01, 0.015, 0.02, 0.025, 0.03, 0.035, 0.04], "format": ".3f"}}}},
   {"data": {"values": [{"label": "r=0.8364"}]}, "mark": {"type": "text", "align": "left", "baseline": "middle", "fontSize": 4, "font": "DejaVu Sans", "color": "#222"}, "encoding": {"x": {"datum": 4}, "y": {"datum": 95}, "text": {"field": "label"}}}
  ]}]},
{"title": {"text": "(b) AIPR", "orient": "bottom", "font": "Liberation Serif", "fontSize": 8, "anchor": "middle", "offset": 3},
 "resolve": {"scale": {"color": "independent"}, "legend": {"color": "independent"}},
 "vconcat": [{"title": {"text": "India", "anchor": "middle", "frame": "group"}, "width": 100, "height": 93,
  "layer": [
   {"data": {"name": "b"}, "mark": {"type": "circle"},
    "encoding": {
     "x": {"field": "x", "type": "quantitative", "title": "AIPR", "scale": {"domain": [1, 104], "nice": false, "zero": false}, "axis": {"values": [20, 40, 60, 80, 100]}},
     "y": {"field": "y", "type": "quantitative", "title": "LDR", "scale": {"domain": [3, 104], "nice": false, "zero": false}, "axis": {"values": [20, 40, 60, 80, 100]}},
     "color": {"field": "c", "type": "quantitative", "scale": {"domain": [0.0018, 0.045], "range": ["#000080","#005D08","#000AD5","#009FFF","#00EDFF","#00FBB2","#00FD39","#41E000","#74E800","#9EFF23","#D9FF22","#FFED00","#FFCE05","#FF9319","#FF374E","#FF00AE","#F107FF","#A337F8","#EC82FF","#F5BDFE","#FEF8FE"]}, "legend": {"title": null, "values": [0.005, 0.01, 0.015, 0.02, 0.025, 0.03, 0.035, 0.04], "format": ".3f"}}}},
   {"data": {"values": [{"label": "r=0.7755"}]}, "mark": {"type": "text", "align": "left", "baseline": "middle", "fontSize": 4, "font": "DejaVu Sans", "color": "#222"}, "encoding": {"x": {"datum": 5}, "y": {"datum": 95}, "text": {"field": "label"}}}
  ]}]},
{"title": {"text": "(c) SD-KNI", "orient": "bottom", "font": "Liberation Serif", "fontSize": 8, "anchor": "middle", "offset": 3},
 "resolve": {"scale": {"color": "independent"}, "legend": {"color": "independent"}},
 "vconcat": [{"title": {"text": "India", "anchor": "middle", "frame": "group"}, "width": 100, "height": 93,
  "layer": [
   {"data": {"name": "c"}, "mark": {"type": "circle"},
    "encoding": {
     "x": {"field": "x", "type": "quantitative", "title": "SD-KNI", "scale": {"domain": [0, 104], "nice": false, "zero": false}, "axis": {"values": [20, 40, 60, 80, 100]}},
     "y": {"field": "y", "type": "quantitative", "title": "LDR", "scale": {"domain": [1, 79], "nice": false, "zero": false}, "axis": {"values": [10, 20, 30, 40, 50, 60, 70]}},
     "color": {"field": "c", "type": "quantitative", "scale": {"domain": [0.0005, 0.064], "range": ["#000080","#005D08","#000AD5","#009FFF","#00EDFF","#00FBB2","#00FD39","#41E000","#74E800","#9EFF23","#D9FF22","#FFED00","#FFCE05","#FF9319","#FF374E","#FF00AE","#F107FF","#A337F8","#EC82FF","#F5BDFE","#FEF8FE"]}, "legend": {"title": null, "values": [0.01, 0.02, 0.03, 0.04, 0.05, 0.06], "format": ".2f"}}}},
   {"data": {"name": "cbar"}, "mark": {"type": "rule", "strokeWidth": 2.5, "color": "#0a0a5a"},
    "encoding": {"x": {"field": "x", "type": "quantitative"}, "x2": {"field": "x2"}, "y": {"field": "y", "type": "quantitative"}}},
   {"data": {"values": [{"label": "r=0.8319"}]}, "mark": {"type": "text", "align": "left", "baseline": "middle", "fontSize": 4, "font": "DejaVu Sans", "color": "#222"}, "encoding": {"x": {"datum": 3}, "y": {"datum": 74}, "text": {"field": "label"}}}
  ]}]},
{"title": {"text": "(d) Degree", "orient": "bottom", "font": "Liberation Serif", "fontSize": 8, "anchor": "middle", "offset": 3},
 "resolve": {"scale": {"color": "independent"}, "legend": {"color": "independent"}},
 "vconcat": [{"title": {"text": "India", "anchor": "middle", "frame": "group"}, "width": 100, "height": 93,
  "layer": [
   {"data": {"name": "d"}, "mark": {"type": "circle"},
    "encoding": {
     "x": {"field": "x", "type": "quantitative", "title": "Degree", "scale": {"domain": [0, 104], "nice": false, "zero": false}, "axis": {"values": [20, 40, 60, 80, 100]}},
     "y": {"field": "y", "type": "quantitative", "title": "LDR", "scale": {"domain": [3, 104], "nice": false, "zero": false}, "axis": {"values": [20, 40, 60, 80, 100]}},
     "color": {"field": "c", "type": "quantitative", "scale": {"domain": [0.001, 0.0422], "range": ["#000080","#005D08","#000AD5","#009FFF","#00EDFF","#00FBB2","#00FD39","#41E000","#74E800","#9EFF23","#D9FF22","#FFED00","#FFCE05","#FF9319","#FF374E","#FF00AE","#F107FF","#A337F8","#EC82FF","#F5BDFE","#FEF8FE"]}, "legend": {"title": null, "values": [0.005, 0.01, 0.015, 0.02, 0.025, 0.03, 0.035, 0.04], "format": ".3f"}}}},
   {"data": {"values": [{"label": "r=0.7086"}]}, "mark": {"type": "text", "align": "left", "baseline": "middle", "fontSize": 4, "font": "DejaVu Sans", "color": "#222"}, "encoding": {"x": {"datum": 4}, "y": {"datum": 95}, "text": {"field": "label"}}}
  ]}]},
{"title": {"text": "(e) IKN-CF", "orient": "bottom", "font": "Liberation Serif", "fontSize": 8, "anchor": "middle", "offset": 3},
 "resolve": {"scale": {"color": "independent"}, "legend": {"color": "independent"}},
 "vconcat": [{"title": {"text": "UK", "anchor": "middle", "frame": "group"}, "width": 100, "height": 93,
  "layer": [
   {"data": {"name": "e"}, "mark": {"type": "circle"},
    "encoding": {
     "x": {"field": "x", "type": "quantitative", "title": "IKN-CF", "scale": {"domain": [-5, 103], "nice": false, "zero": false}, "axis": {"values": [0, 20, 40, 60, 80, 100]}},
     "y": {"field": "y", "type": "quantitative", "title": "LDR", "scale": {"domain": [-5, 105], "nice": false, "zero": false}, "axis": {"values": [0, 20, 40, 60, 80, 100]}},
     "color": {"field": "c", "type": "quantitative", "scale": {"domain": [0.0015, 0.1], "range": ["#000080","#005D08","#000AD5","#009FFF","#00EDFF","#00FBB2","#00FD39","#41E000","#74E800","#9EFF23","#D9FF22","#FFED00","#FFCE05","#FF9319","#FF374E","#FF00AE","#F107FF","#A337F8","#EC82FF","#F5BDFE","#FEF8FE"]}, "legend": {"title": "cluster_cb", "titleOrient": "right", "titleAngle": 90, "titleAnchor": "middle", "values": [0.01, 0.02, 0.03, 0.04, 0.05, 0.06, 0.07, 0.08, 0.09], "format": ".2f"}}}},
   {"data": {"values": [{"label": "r=0.8335"}]}, "mark": {"type": "text", "align": "left", "baseline": "middle", "fontSize": 4, "font": "DejaVu Sans", "color": "#222"}, "encoding": {"x": {"datum": 5}, "y": {"datum": 97}, "text": {"field": "label"}}}
  ]}]},
{"title": {"text": "(f) AIPR", "orient": "bottom", "font": "Liberation Serif", "fontSize": 8, "anchor": "middle", "offset": 3},
 "resolve": {"scale": {"color": "independent"}, "legend": {"color": "independent"}},
 "vconcat": [{"title": {"text": "UK", "anchor": "middle", "frame": "group"}, "width": 100, "height": 93,
  "layer": [
   {"data": {"name": "f"}, "mark": {"type": "circle"},
    "encoding": {
     "x": {"field": "x", "type": "quantitative", "title": "AIPR", "scale": {"domain": [-5, 104], "nice": false, "zero": false}, "axis": {"values": [0, 20, 40, 60, 80, 100]}},
     "y": {"field": "y", "type": "quantitative", "title": "LDR", "scale": {"domain": [-5, 105], "nice": false, "zero": false}, "axis": {"values": [0, 20, 40, 60, 80, 100]}},
     "color": {"field": "c", "type": "quantitative", "scale": {"domain": [0.003, 0.093], "range": ["#000080","#005D08","#000AD5","#009FFF","#00EDFF","#00FBB2","#00FD39","#41E000","#74E800","#9EFF23","#D9FF22","#FFED00","#FFCE05","#FF9319","#FF374E","#FF00AE","#F107FF","#A337F8","#EC82FF","#F5BDFE","#FEF8FE"]}, "legend": {"title": null, "values": [0.02, 0.04, 0.06, 0.08], "format": ".2f"}}}},
   {"data": {"values": [{"label": "r=0.8274"}]}, "mark": {"type": "text", "align": "left", "baseline": "middle", "fontSize": 4, "font": "DejaVu Sans", "color": "#222"}, "encoding": {"x": {"datum": 5}, "y": {"datum": 97}, "text": {"field": "label"}}}
  ]}]},
{"title": {"text": "(g) SD-KNI", "orient": "bottom", "font": "Liberation Serif", "fontSize": 8, "anchor": "middle", "offset": 3},
 "resolve": {"scale": {"color": "independent"}, "legend": {"color": "independent"}},
 "vconcat": [{"title": {"text": "UK", "anchor": "middle", "frame": "group"}, "width": 100, "height": 93,
  "layer": [
   {"data": {"name": "g"}, "mark": {"type": "circle"},
    "encoding": {
     "x": {"field": "x", "type": "quantitative", "title": "SD-KNI", "scale": {"domain": [-5, 104], "nice": false, "zero": false}, "axis": {"values": [0, 20, 40, 60, 80, 100]}},
     "y": {"field": "y", "type": "quantitative", "title": "LDR", "scale": {"domain": [-5, 105], "nice": false, "zero": false}, "axis": {"values": [0, 20, 40, 60, 80, 100]}},
     "color": {"field": "c", "type": "quantitative", "scale": {"domain": [0.0035, 0.095], "range": ["#000080","#005D08","#000AD5","#009FFF","#00EDFF","#00FBB2","#00FD39","#41E000","#74E800","#9EFF23","#D9FF22","#FFED00","#FFCE05","#FF9319","#FF374E","#FF00AE","#F107FF","#A337F8","#EC82FF","#F5BDFE","#FEF8FE"]}, "legend": {"title": null, "values": [0.02, 0.04, 0.06, 0.08], "format": ".2f"}}}},
   {"data": {"values": [{"label": "r=0.5818"}]}, "mark": {"type": "text", "align": "left", "baseline": "middle", "fontSize": 4, "font": "DejaVu Sans", "color": "#222"}, "encoding": {"x": {"datum": 1}, "y": {"datum": 96}, "text": {"field": "label"}}}
  ]}]},
{"title": {"text": "(h) Degree", "orient": "bottom", "font": "Liberation Serif", "fontSize": 8, "anchor": "middle", "offset": 3},
 "resolve": {"scale": {"color": "independent"}, "legend": {"color": "independent"}},
 "vconcat": [{"title": {"text": "UK", "anchor": "middle", "frame": "group"}, "width": 100, "height": 93,
  "layer": [
   {"data": {"name": "h"}, "mark": {"type": "circle"},
    "encoding": {
     "x": {"field": "x", "type": "quantitative", "title": "Degree", "scale": {"domain": [-5, 104], "nice": false, "zero": false}, "axis": {"values": [0, 20, 40, 60, 80, 100]}},
     "y": {"field": "y", "type": "quantitative", "title": "LDR", "scale": {"domain": [-5, 105], "nice": false, "zero": false}, "axis": {"values": [0, 20, 40, 60, 80, 100]}},
     "color": {"field": "c", "type": "quantitative", "scale": {"domain": [0.004, 0.091], "range": ["#000080","#005D08","#000AD5","#009FFF","#00EDFF","#00FBB2","#00FD39","#41E000","#74E800","#9EFF23","#D9FF22","#FFED00","#FFCE05","#FF9319","#FF374E","#FF00AE","#F107FF","#A337F8","#EC82FF","#F5BDFE","#FEF8FE"]}, "legend": {"title": null, "values": [0.02, 0.04, 0.06, 0.08], "format": ".2f"}}}},
   {"data": {"values": [{"label": "r=0.7324"}]}, "mark": {"type": "text", "align": "left", "baseline": "middle", "fontSize": 4, "font": "DejaVu Sans", "color": "#222"}, "encoding": {"x": {"datum": 1}, "y": {"datum": 96}, "text": {"field": "label"}}}
  ]}]}
]
}
